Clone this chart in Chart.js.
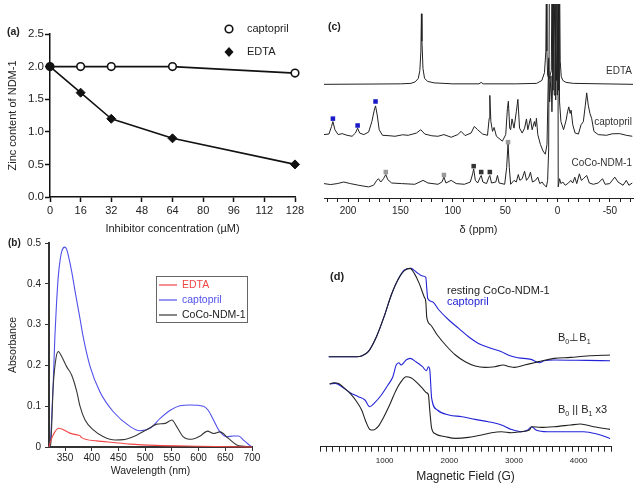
<!DOCTYPE html>
<html>
<head>
<meta charset="utf-8">
<script src="https://cdn.jsdelivr.net/npm/chart.js@4.4.1/dist/chart.umd.min.js"></script>
<style>
  html, body { margin: 0; padding: 0; background: #fff; }
  #page { position: relative; width: 641px; height: 490px; overflow: hidden; background: #fff; }
  canvas { position: absolute; }
</style>
</head>
<body>
<div id="page">
  <canvas id="chartA" width="320" height="240" style="left:0;top:0"></canvas>
  <canvas id="chartB" width="320" height="260" style="left:0;top:230px"></canvas>
  <canvas id="chartC" width="321" height="240" style="left:320px;top:0"></canvas>
  <canvas id="chartD" width="325" height="240" style="left:316px;top:250px"></canvas>
</div>
<script>
// ---- (a) zinc content vs inhibitor concentration ----
const concUM = [0, 16, 32, 64, 128];
const zincCaptopril = [2.0, 2.0, 2.0, 2.0, 1.9];
const zincEDTA = [2.0, 1.6, 1.2, 0.9, 0.5];
const concTicks = [0, 16, 32, 48, 64, 80, 96, 112, 128];

// ---- (b) UV-vis spectra ----
const uvCapNm  = [320, 322, 325, 328, 331, 334, 337.5, 341, 344, 349, 353, 356, 362.5, 369, 378, 384, 397, 415, 440, 472, 490, 509, 528, 547, 565, 584, 609, 618, 628, 640, 653, 665, 675, 684, 692, 700];
const uvCapAbs = [0, 0.005, 0.07, 0.16, 0.27, 0.35, 0.42, 0.46, 0.48, 0.49, 0.485, 0.47, 0.43, 0.38, 0.315, 0.27, 0.197, 0.136, 0.087, 0.05, 0.04, 0.046, 0.07, 0.09, 0.101, 0.103, 0.10, 0.09, 0.066, 0.0375, 0.025, 0.027, 0.027, 0.017, 0.008, 0];
const uvCocoNm  = [320, 323, 328, 333, 337.5, 344, 353, 362.5, 372, 378, 387.5, 403, 422, 444, 459, 484, 509, 522, 537.5, 550, 559, 571.5, 587, 603, 616.5, 628, 640, 656, 671.5, 685, 700];
const uvCocoAbs = [0, 0.005, 0.152, 0.217, 0.234, 0.221, 0.197, 0.176, 0.136, 0.1, 0.066, 0.042, 0.025, 0.017, 0.018, 0.029, 0.047, 0.056, 0.058, 0.066, 0.05, 0.025, 0.019, 0.027, 0.039, 0.033, 0.037, 0.021, 0.005, 0.002, 0];
const uvEdtaNm  = [320, 322, 328, 337.5, 344, 359, 375, 378, 381, 409, 440, 472, 520, 600, 700];
const uvEdtaAbs = [0, 0.01, 0.03, 0.046, 0.044, 0.034, 0.029, 0.028, 0.023, 0.015, 0.011, 0.007, 0.004, 0.002, 0];
const uvTicks = [350, 400, 450, 500, 550, 600, 650, 700];

// ---- (c) paramagnetic NMR (offset traces, arbitrary units) ----
const nmrEdtaPpm = [223, 180, 150, 140, 136, 133, 131.5, 130.5, 130, 129.5, 128.5, 127, 124, 118, 100, 75, 73, 71, 40, 20, 15, 12.5, 11.2, 10.7, 10.2, 9.5, 8, 6, 5.3, 4.5, 4, 3.2, 2.5, 1.8, 1, 0.3, -0.5, -1.2, -1.9, -2.5, -3.5, -5, -8, -15, -72];
const nmrEdtaInt = [116, 116.3, 116.5, 117, 118.5, 122, 130, 150, 188, 160, 132, 122, 119, 117.5, 116.5, 116.5, 118, 116.5, 116.5, 117, 120, 128, 150, 230, 150, 125, 122, 130, 230, 110, 230, 105, 230, 100, 230, 105, 230, 110, 230, 140, 124, 120, 118, 117, 116];
const nmrCapPpm = [223, 218.3, 215.8, 214.5, 212.6, 209.5, 205.7, 201, 196.2, 193, 190.9, 189, 185, 180.4, 177.3, 175, 173.8, 172.2, 170.3, 167.2, 160, 155.2, 148, 142.6, 134.7, 130.6, 126.8, 120, 114.2, 108.5, 101.6, 95.3, 92.1, 88.3, 82.6, 79.5, 76.3, 71.6, 66.9, 65.3, 64.7, 63.7, 62.1, 60.6, 58.4, 52.7, 49.5, 47.9, 47, 45.7, 44.8, 43.5, 41.6, 39.4, 37.9, 36.3, 33.8, 31.5, 29.7, 28.4, 25.9, 24.3, 22.1, 21.1, 20.2, 18.9, 16.4, 13.9, 11.7, 10.1, 8.5, 7.6, 6.3, 5.4, 4, 2.5, 1, -1, -1.9, -3.2, -5.7, -8.2, -9.5, -10.7, -12, -12.9, -14.5, -16.7, -19.9, -22.4, -24.6, -26.5, -27.8, -29.3, -30.9, -32.5, -34.7, -38.8, -46.7, -52, -59.3, -65.6, -71.3];
const nmrCapInt = [64.7, 65.3, 73, 78, 69.7, 64.7, 65.7, 64, 63, 66.3, 71.3, 66.3, 64.7, 67.3, 78, 89.7, 94, 84.7, 69.7, 64, 63.5, 63, 64.5, 64, 66.3, 69.7, 65.3, 63.5, 63, 64.7, 62, 64.7, 68, 63.7, 66.3, 73, 69.7, 65.3, 64, 81.3, 104.7, 78, 68, 72, 63, 58, 64.7, 91.3, 98.7, 71.3, 69.7, 80.7, 71.3, 88, 100.7, 71.3, 66.3, 71.3, 80.7, 69.7, 81.3, 69.7, 78, 73, 81.3, 64.7, 54.7, 48, 44.7, 54.7, 143, 98, 124.7, 88, 150, 200, 120, 200, 98, 78, 69.7, 79.7, 88, 93, 86.3, 89.7, 74.7, 66.3, 65.3, 74.7, 78, 94.7, 107.3, 94.7, 86.3, 81.3, 68, 64.7, 64, 65.5, 65.7, 64, 63];
const nmrCocoPpm = [223, 216.7, 210.4, 204.1, 197.8, 189.9, 180.4, 175.7, 172.6, 171, 168.8, 166.2, 164, 162.1, 158.4, 148.9, 136.3, 128.4, 123.7, 114.2, 110.4, 108.5, 106.6, 101.6, 96.8, 89, 83.3, 81.1, 80.1, 78.5, 76.3, 73.8, 72.9, 71.3, 67.8, 65.6, 64.7, 63.1, 59, 57.4, 55.8, 50.5, 48.6, 47.3, 46.1, 44.8, 41.6, 39.4, 37.5, 36, 33.8, 31.5, 29.7, 27.4, 25.9, 24, 21.1, 18.9, 17, 14.8, 12.6, 10.7, 9.5, 8.5, 7.8, -0.3, -0.6, -1.9, -3.2, -5, -7.3, -10.4, -12.6, -14.5, -16.4, -18.3, -20.8, -22.7, -24.6, -27.8, -30.3, -34.1, -38.8, -42.9, -45.4, -49.8, -54.6, -57.7, -62.5, -65.6, -68.1, -71.3];
const nmrCocoInt = [14.7, 13.7, 14.7, 16.3, 14.7, 13, 11.3, 13, 18, 19.7, 16.3, 19.7, 24, 18.7, 15.3, 14.7, 14, 18, 15.3, 14, 16.3, 21.3, 15.3, 18, 14.7, 14, 16.3, 24.7, 29.7, 18, 15.3, 21.3, 23, 16.3, 14.7, 21.3, 23, 15.3, 16.3, 23, 15.3, 14, 31.3, 56.3, 31.3, 14, 18, 16.3, 24, 18, 19.7, 27.3, 18, 21.3, 26.3, 16.3, 18, 21.3, 14.7, 16.3, 13, 11.3, 18, 50, 230, 230, 11.3, 19.7, 14.7, 16.3, 13, 15.3, 18, 15.3, 21.3, 14.7, 24.7, 18, 19.7, 23, 15.3, 14, 15.3, 19.7, 14, 14.7, 21.3, 16.3, 13, 18, 13, 15.3];
const markBluePpm = [214.5, 190.9, 173.8];
const markBlueInt = [81, 74, 98.5];
const markGreyPpm = [164, 108.5, 47.3];
const markGreyInt = [26.5, 23.5, 57];
const markDarkPpm = [80.1, 72.9, 64.7];
const markDarkInt = [32.5, 26.5, 26.5];
const ppmTicks = [];
for (let v = -70; v <= 220; v += 10) ppmTicks.push(v);

// ---- (d) EPR spectra (offset traces, arbitrary units) ----
const eprPerpRestG = [135, 364, 568, 644, 746, 873, 1000, 1102, 1203, 1305, 1392, 1458, 1534, 1610, 1636, 1651, 1712, 1814, 1941, 2094, 2246, 2399, 2552, 2704, 2831, 2933, 3009, 3162, 3315, 3442, 3620, 3874, 4129, 4485];
const eprPerpRestI = [90, 90, 90, 90.7, 95, 110, 131.7, 151.7, 166.7, 176, 178.3, 173.3, 163.3, 150, 145, 129.3, 121.7, 111.7, 101.7, 91.7, 85, 80.7, 79.3, 80, 81.7, 80, 79.3, 81.7, 84, 86, 88.3, 89.3, 90.7, 91.7];
const eprPerpCapG = [135, 364, 568, 644, 746, 873, 1000, 1102, 1203, 1305, 1407, 1483, 1585, 1636, 1651, 1666, 1738, 1839, 1992, 2145, 2297, 2450, 2653, 2806, 2908, 3060, 3264, 3391, 3467, 3620, 4129, 4485];
const eprPerpCapI = [90, 90, 90, 90.7, 95, 110, 131.7, 151.7, 166.7, 176.7, 178.3, 175, 170.7, 169.3, 158.3, 148.3, 145, 136.7, 126.7, 118.3, 110, 103.3, 98.3, 95, 91.7, 89, 87.3, 84, 86, 86.7, 86.3, 86];
const eprParRestG = [150, 211, 288, 364, 466, 568, 644, 710, 771, 822, 898, 975, 1076, 1178, 1254, 1331, 1407, 1483, 1585, 1646, 1677, 1697, 1727, 1788, 1941, 2094, 2297, 2501, 2653, 2806, 2959, 3111, 3238, 3274, 3416, 3620, 3874, 4027, 4230, 4485];
const eprParRestI = [62.7, 64, 63.3, 59.3, 53.3, 45, 36.7, 25, 17.3, 16.7, 20, 28.3, 41.7, 56.7, 65, 70, 69, 65, 58.3, 54, 51.7, 36.7, 18.3, 12.7, 10, 8.3, 9.3, 11.7, 14, 15, 14, 15, 16.7, 20, 19.3, 20, 21.7, 22.7, 20, 17.3];
const eprParCapG = [150, 237, 339, 466, 593, 695, 771, 847, 949, 1051, 1127, 1178, 1219, 1254, 1331, 1392, 1483, 1585, 1646, 1677, 1697, 1727, 1814, 1992, 2195, 2399, 2602, 2806, 2959, 3111, 3213, 3274, 3340, 3518, 3823, 4078, 4281, 4485];
const eprParCapI = [62.7, 63.3, 60, 54, 50, 46.7, 40, 44, 51.7, 61.7, 70, 81.7, 84, 81.7, 86.7, 88.3, 85, 80, 76, 80, 77.3, 48.3, 36.7, 31.7, 30, 27.3, 25, 21.7, 17.3, 15, 16.7, 20, 16.7, 15, 15, 15, 12.7, 8.3];
const fieldTicks = [];
for (let v = 0; v <= 4500; v += 100) fieldTicks.push(v);

// ---- helpers ----
const FONT = '"Liberation Sans", Arial, Helvetica, sans-serif';
const pts = (xs, ys) => xs.map((x, i) => ({ x, y: ys[i] }));
const fixSize = (w, h) => s => { if (w != null) s.width = w; if (h != null) s.height = h; };
const ticksAt = vals => s => { s.ticks = vals.map(v => ({ value: v })); };

// text drawn on the canvas in page coordinates (ox, oy = canvas offset)
function notesPlugin(id, items, ox, oy, extra) {
  return {
    id,
    afterDraw(chart) {
      const c = chart.ctx;
      c.save();
      if (extra) extra(c, ox, oy);
      items.forEach(it => {
        const size = it.size || 11;
        const runs = it.runs || [{ t: it.text }];
        c.fillStyle = it.color || '#222';
        c.textBaseline = 'middle';
        c.textAlign = 'left';
        const fontFor = r => (it.bold ? 'bold ' : '') + (r.sub ? size * 0.65 : size) + 'px ' + FONT;
        let w = 0;
        runs.forEach(r => { c.font = fontFor(r); w += c.measureText(r.t).width; });
        let x = it.x - ox - (it.align === 'right' ? w : 0);
        const y = it.y - oy;
        runs.forEach(r => {
          c.font = fontFor(r);
          c.fillText(r.t, x, y + (r.sub ? size * 0.38 : 0));
          x += c.measureText(r.t).width;
        });
      });
      c.restore();
    }
  };
}

function baseOptions(padding) {
  return {
    responsive: false,
    animation: false,
    devicePixelRatio: 1,
    layout: { padding },
    plugins: { legend: { display: false }, tooltip: { enabled: false } },
    elements: { point: { radius: 0 }, line: { borderJoinStyle: 'round' } }
  };
}

// ---- (a) ----
const optA = baseOptions({ top: 34, right: 25, left: 0, bottom: 0 });
optA.scales = {
  x: {
    type: 'linear', min: 0, max: 128,
    afterBuildTicks: ticksAt(concTicks), afterFit: fixSize(null, 43),
    grid: { drawOnChartArea: false, tickLength: 5, tickColor: '#111', tickWidth: 1.5 },
    border: { color: '#111', width: 1.5 },
    ticks: { color: '#222', font: { family: FONT, size: 11 }, padding: 2, maxRotation: 0, autoSkip: false },
    title: { display: true, text: 'Inhibitor concentration (µM)', color: '#222', font: { family: FONT, size: 11 }, padding: { top: 0, bottom: 4 } }
  },
  y: {
    type: 'linear', min: 0, max: 2.5,
    afterFit: fixSize(50, null),
    grid: { drawOnChartArea: false, tickLength: 5, tickColor: '#111', tickWidth: 1.5 },
    border: { color: '#111', width: 1.5 },
    ticks: { stepSize: 0.5, color: '#222', font: { family: FONT, size: 11.5 }, padding: 1, callback: v => v.toFixed(1) },
    title: { display: true, text: 'Zinc content of NDM-1', color: '#222', font: { family: FONT, size: 11 }, padding: { top: 6, bottom: 0 } }
  }
};
new Chart(document.getElementById('chartA'), {
  type: 'line',
  data: {
    datasets: [
      { label: 'EDTA', data: pts(concUM, zincEDTA), borderColor: '#111', borderWidth: 1.6, clip: false,
        pointStyle: 'rectRot', pointRadius: 4.5, pointBackgroundColor: '#111', pointBorderColor: '#111', pointBorderWidth: 1 },
      { label: 'captopril', data: pts(concUM, zincCaptopril), borderColor: '#111', borderWidth: 1.6, clip: false,
        pointStyle: 'circle', pointRadius: 3.8, pointBackgroundColor: '#fff', pointBorderColor: '#111', pointBorderWidth: 1.6 }
    ]
  },
  options: optA,
  plugins: [notesPlugin('notesA', [
    { text: '(a)', x: 7, y: 32, bold: true, size: 10.5 },
    { text: 'captopril', x: 247, y: 29, size: 11 },
    { text: 'EDTA', x: 247, y: 52, size: 11 }
  ], 0, 0, (c, ox, oy) => {
    c.lineWidth = 1.6; c.strokeStyle = '#111'; c.fillStyle = '#fff';
    c.beginPath(); c.arc(229 - ox, 29 - oy, 3.8, 0, Math.PI * 2); c.fill(); c.stroke();
    c.fillStyle = '#111';
    c.beginPath();
    c.moveTo(229 - ox, 47 - oy); c.lineTo(233.5 - ox, 52 - oy); c.lineTo(229 - ox, 57 - oy); c.lineTo(224.5 - ox, 52 - oy);
    c.closePath(); c.fill();
  })]
});

// ---- (b) ----
const redB = 'rgb(240,70,70)', blueB = 'rgb(80,80,235)', blackB = 'rgb(55,55,55)';
const optB = baseOptions({ top: 13, right: 68, left: 0, bottom: 0 });
optB.scales = {
  x: {
    type: 'linear', min: 320, max: 700,
    afterBuildTicks: ticksAt(uvTicks), afterFit: fixSize(null, 43),
    grid: { drawOnChartArea: false, tickLength: 4, tickColor: '#333', tickWidth: 1 },
    border: { color: '#333', width: 2 },
    ticks: { color: '#222', font: { family: FONT, size: 10 }, padding: 1, maxRotation: 0, autoSkip: false },
    title: { display: true, text: 'Wavelength (nm)', color: '#222', font: { family: FONT, size: 10.5 }, padding: { top: 0, bottom: 13 } }
  },
  y: {
    type: 'linear', min: 0, max: 0.5,
    afterFit: fixSize(49, null),
    grid: { drawOnChartArea: false, tickLength: 4, tickColor: '#333', tickWidth: 1 },
    border: { color: '#333', width: 2 },
    ticks: { stepSize: 0.1, color: '#222', font: { family: FONT, size: 10 }, padding: 4, callback: v => v === 0 ? '0' : v.toFixed(1) },
    title: { display: true, text: 'Absorbance', color: '#222', font: { family: FONT, size: 10.5 }, padding: { top: 7, bottom: 0 } }
  }
};
const lineB = (data, color) => ({ data, borderColor: color, borderWidth: 1.1, cubicInterpolationMode: 'monotone', clip: 2 });
new Chart(document.getElementById('chartB'), {
  type: 'line',
  data: {
    datasets: [
      lineB(pts(uvEdtaNm, uvEdtaAbs), redB),
      lineB(pts(uvCocoNm, uvCocoAbs), blackB),
      lineB(pts(uvCapNm, uvCapAbs), blueB)
    ]
  },
  options: optB,
  plugins: [notesPlugin('notesB', [
    { text: '(b)', x: 8, y: 243, bold: true, size: 10 },
    { text: 'EDTA', x: 182, y: 285, size: 10.5, color: redB },
    { text: 'captopril', x: 182, y: 300, size: 10.5, color: blueB },
    { text: 'CoCo-NDM-1', x: 182, y: 315, size: 10.5, color: '#222' }
  ], 0, 230, (c, ox, oy) => {
    c.strokeStyle = '#666'; c.lineWidth = 1;
    c.strokeRect(156.5 - ox, 276.5 - oy, 91, 46);
    [[285, redB], [300, blueB], [315, blackB]].forEach(([y, col]) => {
      c.strokeStyle = col; c.lineWidth = 1.2;
      c.beginPath(); c.moveTo(159 - ox, y - oy); c.lineTo(177 - ox, y - oy); c.stroke();
    });
  })]
});

// ---- (c) ----
const optC = baseOptions({ top: 0, right: 8, left: 2, bottom: 0 });
optC.scales = {
  x: {
    type: 'linear', min: -72, max: 223, reverse: true,
    afterBuildTicks: ticksAt(ppmTicks), afterFit: fixSize(null, 42),
    grid: { drawOnChartArea: false, tickLength: 4, tickColor: '#222', tickWidth: 1 },
    border: { color: '#222', width: 1 },
    ticks: { color: '#222', font: { family: FONT, size: 10 }, padding: 3, maxRotation: 0, autoSkip: false,
             callback: v => (v % 50 === 0 ? String(v) : '') },
    title: { display: true, text: 'δ (ppm)', color: '#222', font: { family: FONT, size: 11 }, padding: { top: 0, bottom: 3 } }
  },
  y: { type: 'linear', min: 0, max: 198, display: false }
};
const lineC = data => ({ data, borderColor: '#222', borderWidth: 1, tension: 0 });
const markC = (data, color) => ({ data, showLine: false, pointStyle: 'rect', pointRadius: 3.2, pointBackgroundColor: color, pointBorderColor: color, pointBorderWidth: 0 });
new Chart(document.getElementById('chartC'), {
  type: 'line',
  data: {
    datasets: [
      markC(pts(markBluePpm, markBlueInt), 'rgb(25,25,200)'),
      markC(pts(markGreyPpm, markGreyInt), '#9a9a9a'),
      markC(pts(markDarkPpm, markDarkInt), '#333'),
      lineC(pts(nmrEdtaPpm, nmrEdtaInt)),
      lineC(pts(nmrCapPpm, nmrCapInt)),
      lineC(pts(nmrCocoPpm, nmrCocoInt))
    ]
  },
  options: optC,
  plugins: [notesPlugin('notesC', [
    { text: '(c)', x: 328, y: 27, bold: true, size: 10.5 },
    { text: 'EDTA', x: 632, y: 71, size: 10, color: '#333', align: 'right' },
    { text: 'captopril', x: 632, y: 122, size: 10, color: '#333', align: 'right' },
    { text: 'CoCo-NDM-1', x: 632, y: 163, size: 10, color: '#333', align: 'right' }
  ], 320, 0)]
});

// ---- (d) ----
const blueD = 'rgb(35,35,215)', blackD = '#222';
const optD = baseOptions({ top: 0, right: 30, left: 0, bottom: 0 });
optD.scales = {
  x: {
    type: 'linear', min: 0, max: 4500,
    afterBuildTicks: ticksAt(fieldTicks), afterFit: fixSize(null, 43.3),
    grid: { drawOnChartArea: false, tickLength: 5, tickColor: '#222', tickWidth: 1 },
    border: { color: '#222', width: 1 },
    ticks: { color: '#222', font: { family: FONT, size: 8 }, padding: 4, maxRotation: 0, autoSkip: false,
             callback: v => (v % 1000 === 0 && v > 0 ? String(v) : '') },
    title: { display: true, text: 'Magnetic Field (G)', color: '#222', font: { family: FONT, size: 12 }, padding: { top: 0, bottom: 6 } }
  },
  y: { type: 'linear', min: 0, max: 196.7, display: false }
};
const lineD = (data, color) => ({ data, borderColor: color, borderWidth: 1.1, cubicInterpolationMode: 'monotone' });
new Chart(document.getElementById('chartD'), {
  type: 'line',
  data: {
    datasets: [
      lineD(pts(eprPerpRestG, eprPerpRestI), blackD),
      lineD(pts(eprPerpCapG, eprPerpCapI), blueD),
      lineD(pts(eprParRestG, eprParRestI), blackD),
      lineD(pts(eprParCapG, eprParCapI), blueD)
    ]
  },
  options: optD,
  plugins: [notesPlugin('notesD', [
    { text: '(d)', x: 330, y: 277, bold: true, size: 11 },
    { text: 'resting CoCo-NDM-1', x: 447, y: 291, size: 11, color: '#222' },
    { text: 'captopril', x: 447, y: 302, size: 11, color: blueD },
    { x: 558, y: 338, size: 11, color: '#222', runs: [{ t: 'B' }, { t: '0', sub: true }, { t: '⊥' }, { t: 'B' }, { t: '1', sub: true }] },
    { x: 558, y: 410, size: 11, color: '#222', runs: [{ t: 'B' }, { t: '0', sub: true }, { t: ' || B' }, { t: '1', sub: true }, { t: ' x3' }] }
  ], 316, 250)]
});
</script>
</body>
</html>
